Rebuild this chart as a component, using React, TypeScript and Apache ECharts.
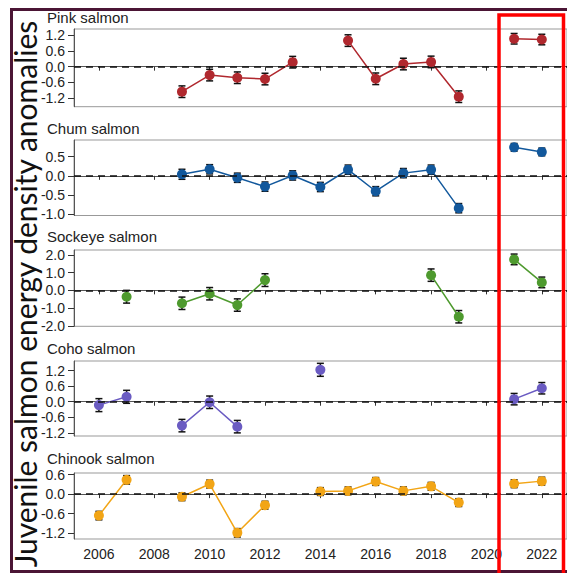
import React, { useEffect, useRef } from "react";
import * as echarts from "echarts";

const years = [2006, 2007, 2008, 2009, 2010, 2011, 2012, 2013, 2014, 2015, 2016, 2017, 2018, 2019, 2020, 2021, 2022];
const xTicks = [2006, 2008, 2010, 2012, 2014, 2016, 2018, 2020, 2022];

const pink = [null, null, null, -0.95, -0.32, -0.42, -0.47, 0.17, null, 0.99, -0.46, 0.1, 0.18, -1.14, null, 1.06, 1.03];
const pinkErr = [0, 0, 0, 0.22, 0.22, 0.22, 0.22, 0.22, 0, 0.22, 0.22, 0.22, 0.22, 0.22, 0, 0.2, 0.2];
const chum = [null, null, null, 0.04, 0.17, -0.05, -0.28, 0.01, -0.29, 0.16, -0.4, 0.07, 0.16, -0.84, null, 0.74, 0.62];
const chumErr = [0, 0, 0, 0.13, 0.12, 0.12, 0.12, 0.12, 0.12, 0.12, 0.12, 0.12, 0.12, 0.12, 0, 0.1, 0.1];
const sockeye = [null, -0.36, null, -0.73, -0.19, -0.83, 0.58, null, null, null, null, null, 0.86, -1.49, null, 1.75, 0.45];
const sockeyeErr = [0, 0.36, 0, 0.35, 0.35, 0.35, 0.36, 0, 0, 0, 0, 0, 0.35, 0.35, 0, 0.3, 0.3];
const coho = [-0.13, 0.19, null, -0.92, -0.02, -0.96, null, null, 1.23, null, null, null, null, null, null, 0.1, 0.52];
const cohoErr = [0.25, 0.25, 0, 0.24, 0.24, 0.24, 0, 0, 0.25, 0, 0, 0, 0, 0, 0, 0.22, 0.22];
const chinook = [-0.66, 0.44, null, -0.08, 0.31, -1.19, -0.34, null, 0.08, 0.1, 0.39, 0.1, 0.24, -0.26, null, 0.32, 0.4];
const chinookErr = [0.13, 0.13, 0, 0.12, 0.12, 0.13, 0.12, 0, 0.12, 0.12, 0.12, 0.12, 0.12, 0.12, 0, 0.12, 0.12];

const names = ["Pink salmon", "Chum salmon", "Sockeye salmon", "Coho salmon", "Chinook salmon"];
const values = [pink, chum, sockeye, coho, chinook];
const errors = [pinkErr, chumErr, sockeyeErr, cohoErr, chinookErr];
const colors = ["#B0282E", "#12589C", "#4E9A2E", "#6A5BC2", "#F2A516"];
const yTicks = [
  [-1.2, -0.6, 0, 0.6, 1.2],
  [-1.0, -0.5, 0, 0.5],
  [-2.0, -1.0, 0, 1.0, 2.0],
  [-1.2, -0.6, 0, 0.6, 1.2],
  [-1.2, -0.6, 0, 0.6],
];
const yMin = [-1.52, -1.03, -2.03, -1.32, -1.38];
const yMax = [1.43, 0.93, 2.28, 1.57, 0.65];

const panelTop = [29, 140, 250, 361, 473];
const panelHeight = [77.7, 75.5, 76.3, 75, 66];
const titleY = [17, 128, 236, 348, 458];

export default function App() {
  const ref = useRef<HTMLDivElement>(null);
  useEffect(() => {
    if (!ref.current) return;
    const chart = echarts.init(ref.current, null, { renderer: "svg" });
    const font = "Liberation Sans";
    const grids: any[] = [];
    const xAxes: any[] = [];
    const yAxes: any[] = [];
    const series: any[] = [];
    const graphics: any[] = [];
    for (let i = 0; i < 5; i++) {
      grids.push({
        left: 74,
        right: -2,
        top: panelTop[i],
        height: panelHeight[i],
        show: true,
        borderColor: "#999",
        borderWidth: 1,
      });
      xAxes.push({
        type: "value",
        gridIndex: i,
        min: 2005.1,
        max: 2022.91,
        splitLine: { show: false },
        axisLine: { show: true, lineStyle: { color: "#555", width: 1 } },
        axisTick: { show: true, length: 4, customValues: xTicks, lineStyle: { color: "#333" } },
        axisLabel: {
          show: i === 4,
          customValues: xTicks,
          margin: 8,
          fontSize: 14,
          fontFamily: font,
          color: "#222",
          formatter: (v: number) => String(v),
        },
      });
      yAxes.push({
        type: "value",
        gridIndex: i,
        min: yMin[i],
        max: yMax[i],
        splitLine: { show: false },
        axisLine: { show: true, lineStyle: { color: "#555", width: 1 } },
        axisTick: { show: true, length: 6, customValues: yTicks[i], lineStyle: { color: "#333" } },
        axisLabel: {
          customValues: yTicks[i],
          margin: 9,
          fontSize: 14,
          fontFamily: font,
          color: "#222",
          formatter: (v: number) => v.toFixed(1),
        },
      });
      const vals = values[i];
      const errs = errors[i];
      series.push({
        type: "custom",
        xAxisIndex: i,
        yAxisIndex: i,
        z: 1,
        silent: true,
        encode: { x: 0, y: [1, 2] },
        data: years
          .map((yr, k) => (vals[k] === null ? null : [yr, (vals[k] as number) - errs[k], (vals[k] as number) + errs[k]]))
          .filter((d) => d !== null),
        renderItem: (params: any, api: any) => {
          const x = api.value(0);
          const lo = api.value(1);
          const hi = api.value(2);
          const p1 = api.coord([x, hi]);
          const p2 = api.coord([x, lo]);
          const w = 3.5;
          const st = { stroke: "#111", lineWidth: 1.5 };
          return {
            type: "group",
            children: [
              { type: "line", shape: { x1: p1[0], y1: p1[1], x2: p2[0], y2: p2[1] }, style: st },
              { type: "line", shape: { x1: p1[0] - w, y1: p1[1], x2: p1[0] + w, y2: p1[1] }, style: st },
              { type: "line", shape: { x1: p2[0] - w, y1: p2[1], x2: p2[0] + w, y2: p2[1] }, style: st },
            ],
          };
        },
      });
      series.push({
        type: "line",
        name: names[i],
        xAxisIndex: i,
        yAxisIndex: i,
        z: 3,
        data: years.map((yr, k) => [yr, vals[k] === null ? "-" : vals[k]]),
        connectNulls: false,
        symbol: "circle",
        symbolSize: 10,
        showSymbol: true,
        itemStyle: { color: colors[i] },
        lineStyle: { color: colors[i], width: 1.5 },
        markLine: {
          silent: true,
          symbol: ["none", "none"],
          label: { show: false },
          lineStyle: { type: [7, 5], color: "#111", width: 1.5 },
          data: [{ yAxis: 0 }],
        },
      });
      graphics.push({
        type: "text",
        x: 47,
        y: titleY[i],
        style: {
          text: names[i],
          fontSize: 15,
          fontFamily: font,
          fill: "#222",
          textVerticalAlign: "middle",
          verticalAlign: "middle",
        },
      });
    }
    graphics.push({
      type: "text",
      x: 25,
      y: 294,
      rotation: Math.PI / 2,
      style: {
        text: "Juvenile salmon energy density anomalies",
        fontSize: 30,
        fontFamily: "Lato",
        fill: "#111",
        align: "center",
        verticalAlign: "middle",
        textAlign: "center",
        textVerticalAlign: "middle",
      },
    });
    graphics.push({
      type: "rect",
      shape: { x: 11.5, y: 9.5, width: 600, height: 562 },
      style: { fill: "none", stroke: "#4B1535", lineWidth: 3 },
      silent: true,
    });
    graphics.push({
      type: "rect",
      shape: { x: 499, y: 15, width: 64.5, height: 600 },
      style: { fill: "none", stroke: "#FF0000", lineWidth: 3.5 },
      silent: true,
      z: 100,
    });
    chart.setOption({
      animation: false,
      backgroundColor: "#fff",
      grid: grids,
      xAxis: xAxes,
      yAxis: yAxes,
      series,
      graphic: graphics,
    });
    return () => chart.dispose();
  }, []);
  return <div ref={ref} style={{ position: "fixed", left: 0, top: 0, width: 567, height: 573 }} />;
}
